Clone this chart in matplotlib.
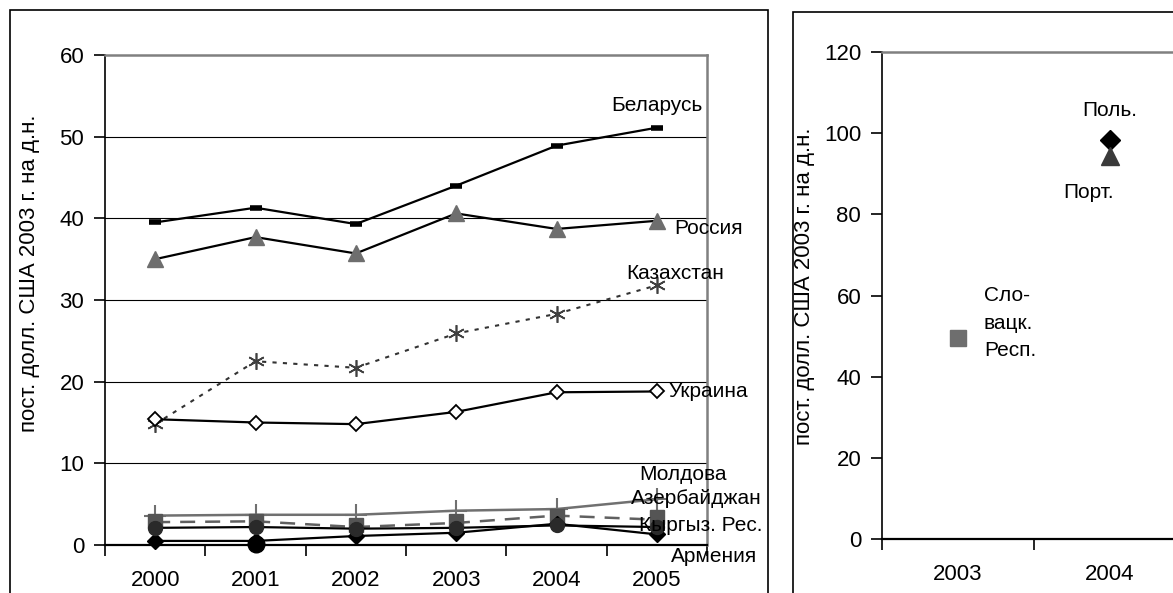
import matplotlib.pyplot as plt
from matplotlib.patches import Rectangle

plt.rcParams['font.family'] = ['Liberation Sans', 'DejaVu Sans']

# data
years = [2000, 2001, 2002, 2003, 2004, 2005]
belarus = [39.5, 41.3, 39.3, 44.0, 48.9, 51.1]
russia = [35.0, 37.7, 35.7, 40.6, 38.7, 39.7]
kazakhstan = [14.8, 22.5, 21.7, 25.9, 28.3, 31.8]
ukraine = [15.4, 15.0, 14.8, 16.3, 18.7, 18.8]
moldova = [3.6, 3.7, 3.7, 4.2, 4.4, 5.6]
azerbaijan = [2.8, 2.9, 2.2, 2.7, 3.6, 3.1]
azerbaijan_pts = [3.0, 3.0, 2.4, 2.9, 3.6, 3.4]
kyrgyz = [2.1, 2.2, 2.0, 2.1, 2.4, 2.2]
armenia = [0.5, 0.5, 1.1, 1.5, 2.6, 1.3]
extra_year = [2001]
extra_val = [0.1]

right_years = [2003, 2004]
poland = [None, 98.3]
portugal = [None, 94.3]
slovakia = [49.5, None]

ylabel = 'пост. долл. США 2003 г. на д.н.'

fig = plt.figure(figsize=(11.73, 5.93), dpi=100)

# panel frames
fig.patches.append(Rectangle((10/1173, -0.1), 758/1173, 1.1 - 10/593, transform=fig.transFigure,
                             fill=False, edgecolor='black', linewidth=1.2))
fig.patches.append(Rectangle((793/1173, -0.1), 0.5, 1.1 - 12/593, transform=fig.transFigure,
                             fill=False, edgecolor='black', linewidth=1.2))

# ---- left chart
ax = fig.add_axes([105/1173, 1 - 545/593, 602/1173, 490/593])
for v in range(10, 60, 10):
    ax.axhline(v, color='black', linewidth=0.8, zorder=0)

ax.plot(years, belarus, color='black', lw=1.6, marker='_', ms=8, mew=4, mec='black')
ax.plot(years, russia, color='black', lw=1.6, marker='^', ms=11, mfc='#6e6e6e', mec='#6e6e6e')
ax.plot(years, kazakhstan, color='#333333', lw=1.5, ls=(0, (2, 3)), marker=(6, 2, 0), ms=12,
        mec='#404040', mew=1.2)
ax.plot(years, ukraine, color='black', lw=1.6, marker='D', ms=7, mfc='white', mec='black', mew=1.3)
ax.plot(years, moldova, color='#707070', lw=1.8, marker='+', ms=16, mec='#707070', mew=1.5, clip_on=False)
ax.plot(years, azerbaijan, color='#606060', lw=1.8, ls=(0, (6, 4)), clip_on=False)
ax.plot(years, azerbaijan_pts, ls='none', marker='s', ms=10, mfc='#555555', mec='#555555', clip_on=False)
ax.plot(years, armenia, color='black', lw=1.6, marker='D', ms=8, mfc='black', mec='black', clip_on=False)
ax.plot(years, kyrgyz, color='black', lw=1.6, marker='o', ms=10, mfc='#2a2a2a', mec='#2a2a2a', clip_on=False)
ax.plot(extra_year, extra_val, ls='none', marker='o', ms=12, mfc='black', mec='black', clip_on=False)

ax.set_xlim(1999.5, 2005.5)
ax.set_ylim(0, 60)
ax.set_yticks(range(0, 70, 10))
ax.set_xticks([1999.5 + i for i in range(7)])
ax.set_xticklabels([])
ax.set_xticks(years, minor=True)
ax.set_xticklabels([str(y) for y in years], minor=True)
ax.tick_params(axis='x', which='major', direction='out', length=8, width=1.2, color='black')
ax.tick_params(axis='x', which='minor', length=0, pad=18, labelsize=16)
ax.tick_params(axis='y', direction='out', length=8, width=1.2, pad=7, labelsize=16)
ax.spines['left'].set_color('black')
ax.spines['left'].set_linewidth(1.2)
ax.spines['bottom'].set_color('black')
ax.spines['bottom'].set_linewidth(1.6)
ax.spines['top'].set_color('#808080')
ax.spines['right'].set_color('#808080')
ax.spines['top'].set_linewidth(1.8)
ax.spines['right'].set_linewidth(1.8)
ax.set_ylabel(ylabel, fontsize=16)
ax.yaxis.set_label_coords(-0.108, 0.555)

lab = dict(fontsize=15, clip_on=False)
ax.text(2005.0, 53.8, 'Беларусь', ha='center', va='center', **lab)
ax.text(2005.17, 38.8, 'Россия', ha='left', va='center', **lab)
ax.text(2004.7, 33.3, 'Казахстан', ha='left', va='center', **lab)
ax.text(2005.12, 18.8, 'Украина', ha='left', va='center', **lab)
ax.text(2004.82, 8.6, 'Молдова', ha='left', va='center', **lab)
ax.text(2004.74, 5.7, 'Азербайджан', ha='left', va='center', **lab)
ax.text(2004.82, 2.4, 'Кыргыз. Рес.', ha='left', va='center', **lab)
ax.text(2005.14, -1.4, 'Армения', ha='left', va='center', **lab)

# ---- right chart
ax2 = fig.add_axes([882/1173, 1 - 539/593, 304/1173, 487/593])
ax2.plot(right_years, poland, ls='none', marker='D', ms=10, mfc='black', mec='black')
ax2.plot(right_years, portugal, ls='none', marker='^', ms=13, mfc='#3a3a3a', mec='#3a3a3a')
ax2.plot(right_years, slovakia, ls='none', marker='s', ms=12, mfc='#6e6e6e', mec='#6e6e6e')
ax2.set_xlim(2002.5, 2004.5)
ax2.set_ylim(0, 120)
ax2.set_yticks(range(0, 140, 20))
ax2.set_xticks([2002.5, 2003.5, 2004.5])
ax2.set_xticklabels([])
ax2.set_xticks(right_years, minor=True)
ax2.set_xticklabels([str(y) for y in right_years], minor=True)
ax2.tick_params(axis='x', which='major', direction='out', length=8, width=1.2)
ax2.tick_params(axis='x', which='minor', length=0, pad=18, labelsize=16)
ax2.tick_params(axis='y', direction='out', length=8, width=1.2, pad=7, labelsize=16)
ax2.spines['left'].set_linewidth(1.2)
ax2.spines['bottom'].set_linewidth(1.6)
ax2.spines['top'].set_color('#808080')
ax2.spines['top'].set_linewidth(1.8)
ax2.spines['right'].set_color('#808080')
ax2.set_ylabel(ylabel, fontsize=16)
ax2.yaxis.set_label_coords(-0.22, 0.52)
ax2.text(2004.0, 105.5, 'Поль.', ha='center', va='center', fontsize=15)
ax2.text(2003.86, 85.5, 'Порт.', ha='center', va='center', fontsize=15)
ax2.text(2003.17, 53.2, 'Сло-\nвацк.\nРесп.', ha='left', va='center', fontsize=15, linespacing=1.55)

fig.savefig('out.png', dpi=100)
